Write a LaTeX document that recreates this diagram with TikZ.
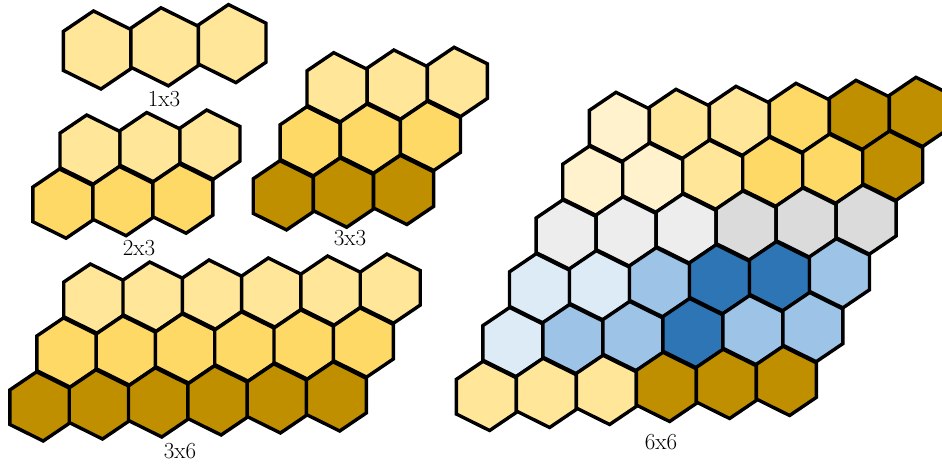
\documentclass[tikz,border=0pt]{standalone}
\definecolor{hcream}{HTML}{FFF2CC}
\definecolor{hlight}{HTML}{FFE699}
\definecolor{hmed}{HTML}{FFD966}
\definecolor{hdark}{HTML}{BF8F00}
\definecolor{hgrayA}{HTML}{EDEDED}
\definecolor{hgrayB}{HTML}{DBDBDB}
\definecolor{hblueA}{HTML}{DDEBF7}
\definecolor{hblueB}{HTML}{9DC3E6}
\definecolor{hblueC}{HTML}{2E75B6}
\tikzset{
  hexline/.style={draw=black, line width=3.4pt, line join=miter},
  gridlabel/.style={anchor=base, inner sep=0pt, font=\fontsize{23}{27}\selectfont}
}
% #1 x, #2 y, #3 scale, #4 colour
\newcommand\hexcell[4]{%
  \filldraw[hexline, fill=#4, shift={(#1,#2)}, scale=#3]
    (-3.3,-34.6) -- (30,-18.1) -- (30,16.5) -- (3.3,34.6) -- (-30,18.1) -- (-30,-16.5) -- cycle;}
% #1 x0, #2 y0, #3 ax, #4 ay, #5 scale, #6 colour list
\newcommand\hexrow[6]{%
  \foreach \cc [count=\ii from 0] in {#6} {%
    \hexcell{#1+\ii*#3}{#2+\ii*#4}{#5}{\cc}}}
\begin{document}
\begin{tikzpicture}[x=1pt,y=-1pt]
\useasboundingbox (0,0) rectangle (942,464);
\clip (0,0) rectangle (942,464);
% 1x3
\hexrow{97.2}{50}{67.5}{-3.2}{1.128}{hlight,hlight,hlight}
\node[gridlabel] (l13) at (164,106) {1x3};
% 2x3
\hexrow{90}{149.6}{60}{-2.5}{1}{hlight,hlight,hlight}
\hexrow{62.8}{203.6}{60}{-2.5}{1}{hmed,hmed,hmed}
\node[gridlabel] (l23) at (139,255.5) {2x3};
% 3x3
\hexrow{337}{87.3}{60.2}{-2.7}{1}{hlight,hlight,hlight}
\hexrow{310.1}{141.3}{60.2}{-2.7}{1}{hmed,hmed,hmed}
\hexrow{283.2}{195.3}{60.2}{-2.7}{1}{hdark,hdark,hdark}
\node[gridlabel] (l33) at (350,245) {3x3};
% 3x6
\hexrow{93.7}{298.6}{59.3}{-2}{1}{hlight,hlight,hlight,hlight,hlight,hlight}
\hexrow{66.8}{352.5}{59.3}{-2}{1}{hmed,hmed,hmed,hmed,hmed,hmed}
\hexrow{39.9}{406.4}{59.3}{-2}{1}{hdark,hdark,hdark,hdark,hdark,hdark}
\node[gridlabel] (l36) at (180,458) {3x6};
% 6x6
\hexrow{619.3}{126.9}{60}{-3}{1}{hcream,hlight,hlight,hmed,hdark,hdark}
\hexrow{592.7}{180.7}{60}{-3}{1}{hcream,hcream,hlight,hmed,hmed,hdark}
\hexrow{566.1}{234.5}{60}{-3}{1}{hgrayA,hgrayA,hgrayA,hgrayB,hgrayB,hgrayB}
\hexrow{539.5}{288.3}{60}{-3}{1}{hblueA,hblueA,hblueB,hblueC,hblueC,hblueB}
\hexrow{512.9}{342.1}{60}{-3}{1}{hblueA,hblueB,hblueB,hblueC,hblueB,hblueB}
\hexrow{486.3}{395.9}{60}{-3}{1}{hlight,hlight,hlight,hdark,hdark,hdark}
\node[gridlabel] (l66) at (661,449) {6x6};
\end{tikzpicture}
\end{document}
